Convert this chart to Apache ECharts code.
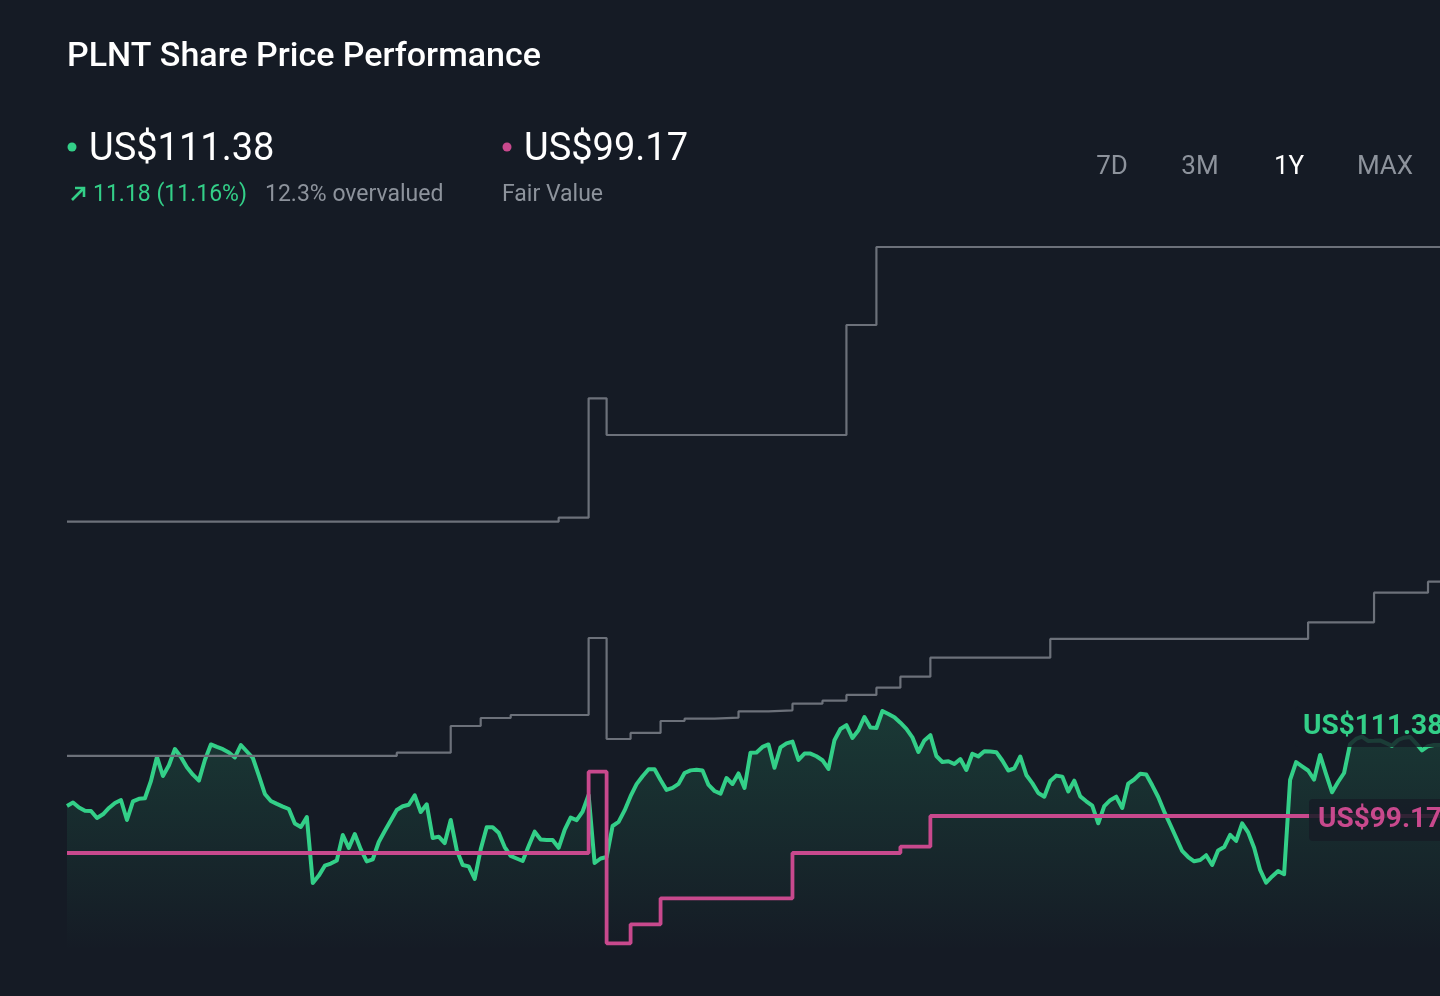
<!DOCTYPE html>
<html>
<head>
<meta charset="utf-8">
<style>
  html, body { margin: 0; padding: 0; background: #151b25; }
  #chart { width: 1440px; height: 996px; }
</style>
<script src="https://cdn.jsdelivr.net/npm/echarts@6/dist/echarts.min.js"></script>
</head>
<body>
<div id="chart"></div>
<script>
// ---- Data ----
const titleText = 'PLNT Share Price Performance';
const currentPrice = 111.38;
const priceChange = '11.18 (11.16%)';
const valuationText = '12.3% overvalued';
const fairValue = 99.17;
const fairValueLabel = 'Fair Value';
const rangeButtons = ['7D', '3M', '1Y', 'MAX'];
const activeRange = '1Y';

// daily share price over the last year
const priceValues = [
  100.89,101.48,100.62,100.07,100.03,98.83,99.46,100.55,101.41,101.92,
  98.48,101.70,102.13,102.22,105.19,109.33,106.05,107.90,110.70,109.33,
  107.57,106.28,105.26,108.81,111.48,111.05,110.67,110.10,109.24,111.39,
  110.27,109.15,106.12,102.96,101.75,101.25,100.79,100.37,97.88,97.28,
  99.00,87.64,88.91,90.62,90.98,91.51,95.90,93.66,96.07,93.42,
  91.36,91.72,94.69,96.59,98.40,100.20,100.84,101.10,102.73,99.86,
  101.18,95.38,95.61,94.52,98.48,93.32,90.74,90.50,88.33,93.44,
  97.23,97.23,96.28,93.83,92.29,91.85,91.42,94.01,96.47,95.14,
  95.04,95.04,93.70,96.76,98.89,98.45,99.94,102.78,91.08,91.85,
  92.11,97.45,98.15,100.13,102.58,104.66,106.02,107.21,107.21,105.37,
  103.65,104.02,104.70,106.57,107.02,107.14,107.00,104.51,103.47,103.01,
  105.71,104.68,106.50,103.99,110.07,110.10,111.05,111.48,107.48,110.99,
  111.68,111.98,108.81,109.91,109.91,109.45,108.77,107.26,112.20,114.14,
  114.82,112.60,113.92,116.21,114.42,114.32,117.24,116.73,116.18,115.23,
  114.18,112.70,110.19,112.18,113.08,109.50,108.46,108.60,108.12,108.98,
  107.09,109.89,109.43,110.32,110.27,110.15,108.72,107.00,107.38,109.41,
  106.23,104.82,103.13,102.49,105.19,106.12,105.95,103.40,105.25,102.54,
  101.70,100.94,97.91,100.87,101.89,102.49,100.55,104.75,105.45,106.43,
  106.31,104.45,102.44,99.93,97.71,95.42,93.15,92.11,91.37,91.60,
  92.42,90.74,93.25,93.83,95.92,94.87,97.90,96.35,93.71,89.89,
  87.69,88.76,89.70,89.15,105.37,108.45,107.72,107.00,105.44,109.67,
  106.36,103.25,105.02,106.57,111.53,112.44,112.84,112.08,112.11,112.18,
  111.72,111.25,112.25,112.65,112.77,111.68,110.46,111.18,111.39,111.38
];

// step series: [day index where the value changes, new value]
const fairValueSteps = [
  [0,92.80],[87,106.79],[90,77.26],[94,80.53],[99,85.00],
  [121,92.80],[139,93.89],[144,99.17],[229,99.17]
];
const upperTargetSteps = [
  [0,149.83],[82,150.51],[87,171.06],[90,164.75],[130,183.68],[135,197.11],[229,197.11]
];
const lowerTargetSteps = [
  [0,109.50],[55,110.07],[64,114.66],[69,116.04],[74,116.55],[87,129.81],[90,112.42],
  [94,113.46],[99,115.52],[103,115.92],[108,116.09],[112,117.19],[117,117.36],
  [121,118.50],[126,119.02],[130,120.00],[135,121.25],[139,123.15],[144,126.42],
  [164,129.64],[207,132.51],[218,137.60],[227,139.50],[229,139.50]
];

const dayCategories = priceValues.map((_, i) => 'D' + (i + 1));

// ---- Styles ----
const BG = '#151b25';
const GREEN = '#33cf88';
const PINK = '#c8498d';
const GREY_LINE = '#6c717a';
const GREY_TEXT = '#8d939c';
const FONT = 'Roboto, "Noto Sans", sans-serif';

const chart = echarts.init(document.getElementById('chart'), null, { renderer: 'canvas' });

const buttonX = [1112, 1200, 1289, 1385];

const option = {
  backgroundColor: BG,
  animation: false,
  grid: { left: 67, right: 0, top: 114, height: 836.6 },
  xAxis: {
    type: 'category',
    data: dayCategories,
    boundaryGap: false,
    show: false
  },
  yAxis: {
    type: 'value',
    min: 76,
    max: 220,
    show: false,
    splitLine: { show: false }
  },
  graphic: [
    { type: 'text', x: 67, y: 57, style: { text: titleText, fill: '#ffffff', font: '500 34px ' + FONT, textVerticalAlign: 'middle' } },
    { type: 'circle', shape: { cx: 72, cy: 147, r: 4.5 }, style: { fill: GREEN } },
    { type: 'text', x: 89, y: 150, style: { text: 'US$' + currentPrice.toFixed(2), fill: '#ffffff', font: '400 38px ' + FONT, textVerticalAlign: 'middle' } },
    { type: 'polyline', shape: { points: [[72, 200], [84, 188]] }, style: { stroke: GREEN, lineWidth: 2.6, fill: null } },
    { type: 'polyline', shape: { points: [[75, 188], [84, 188], [84, 197]] }, style: { stroke: GREEN, lineWidth: 2.6, fill: null } },
    { type: 'text', x: 93, y: 195, style: { text: priceChange, fill: GREEN, font: '400 23px ' + FONT, textVerticalAlign: 'middle' } },
    { type: 'text', x: 265, y: 195, style: { text: valuationText, fill: GREY_TEXT, font: '400 23px ' + FONT, textVerticalAlign: 'middle' } },
    { type: 'circle', shape: { cx: 507, cy: 147, r: 4.5 }, style: { fill: PINK } },
    { type: 'text', x: 524, y: 150, style: { text: 'US$' + fairValue.toFixed(2), fill: '#ffffff', font: '400 38px ' + FONT, textVerticalAlign: 'middle' } },
    { type: 'text', x: 502, y: 195, style: { text: fairValueLabel, fill: GREY_TEXT, font: '400 23px ' + FONT, textVerticalAlign: 'middle' } }
  ].concat(rangeButtons.map((b, i) => ({
    type: 'text', x: buttonX[i], y: 167,
    style: { text: b, fill: b === activeRange ? '#ffffff' : GREY_TEXT, font: '400 26px ' + FONT, textAlign: 'center', textVerticalAlign: 'middle' }
  }))),
  series: [
    {
      name: 'Share Price',
      type: 'line',
      data: priceValues,
      symbol: 'none',
      z: 2,
      lineStyle: { color: GREEN, width: 4, join: 'round' },
      areaStyle: {
        origin: 'start',
        color: new echarts.graphic.LinearGradient(0, 0, 0, 1, [
          { offset: 0, color: 'rgba(51,207,136,0.24)' },
          { offset: 0.55, color: 'rgba(51,207,136,0.11)' },
          { offset: 1, color: 'rgba(51,207,136,0)' }
        ])
      },
      endLabel: {
        show: true,
        formatter: (p) => 'US$' + Number(p.value).toFixed(2),
        color: GREEN,
        fontFamily: FONT,
        fontWeight: 'bold',
        fontSize: 28,
        backgroundColor: 'rgba(22,28,38,0.82)',
        padding: [6, 8, 6, 8],
        borderRadius: 4,
        offset: [-153, -18]
      }
    },
    {
      name: 'Upper',
      type: 'line',
      data: upperTargetSteps,
      step: 'end',
      symbol: 'none',
      z: 3,
      lineStyle: { color: GREY_LINE, width: 2.2 }
    },
    {
      name: 'Lower',
      type: 'line',
      data: lowerTargetSteps,
      step: 'end',
      symbol: 'none',
      z: 3,
      lineStyle: { color: GREY_LINE, width: 2.2 }
    },
    {
      name: 'Fair Value',
      type: 'line',
      data: fairValueSteps,
      step: 'end',
      symbol: 'none',
      z: 4,
      lineStyle: { color: PINK, width: 3.8 },
      endLabel: {
        show: true,
        formatter: (p) => 'US$' + Number(p.value[1]).toFixed(2),
        color: PINK,
        fontFamily: FONT,
        fontWeight: 'bold',
        fontSize: 28,
        backgroundColor: 'rgba(22,28,38,0.85)',
        padding: [7, 9, 7, 9],
        borderRadius: 4,
        offset: [-139, 4]
      }
    }
  ]
};

chart.setOption(option);
</script>
</body>
</html>
